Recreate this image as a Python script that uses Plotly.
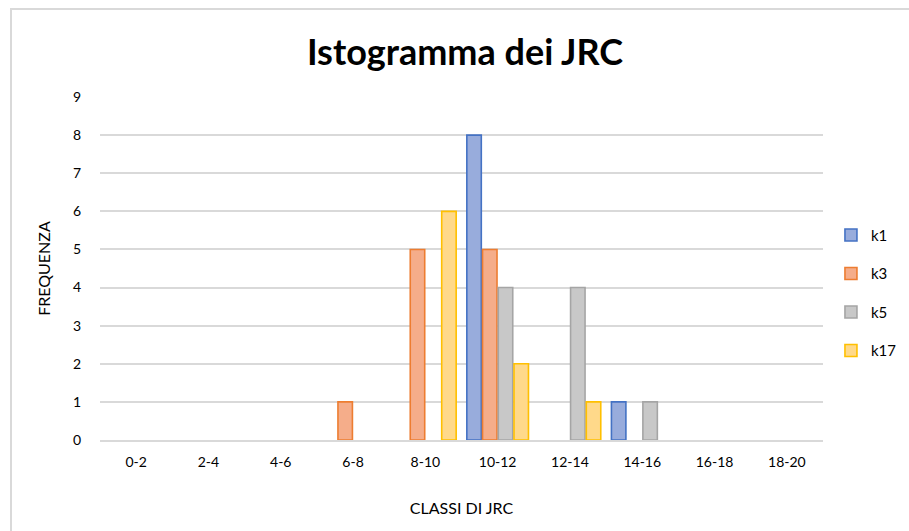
import plotly.graph_objects as go

categories = ["0-2", "2-4", "4-6", "6-8", "8-10", "10-12", "12-14", "14-16", "16-18", "18-20"]
k1 = [0, 0, 0, 0, 0, 8, 0, 1, 0, 0]
k3 = [0, 0, 0, 1, 5, 5, 0, 0, 0, 0]
k5 = [0, 0, 0, 0, 0, 4, 4, 1, 0, 0]
k17 = [0, 0, 0, 0, 6, 2, 1, 0, 0, 0]
y_ticks = list(range(0, 10))

series = [
    ("k1", k1, "#98ACDC", "#4472C4"),
    ("k3", k3, "#F5AD8A", "#ED7D31"),
    ("k5", k5, "#C8C8C8", "#A5A5A5"),
    ("k17", k17, "#FFD98A", "#FFC000"),
]

FONT = "Lato"
fig = go.Figure()
for name, vals, fill, line in series:
    fig.add_trace(go.Bar(
        name=name, x=categories, y=[v if v else None for v in vals],
        marker=dict(color=fill, line=dict(color=line, width=1.6)),
        legendgroup=name,
    ))

fig.update_layout(
    width=909, height=531,
    barmode="group", bargap=0.13, bargroupgap=0.08,
    paper_bgcolor="white", plot_bgcolor="white",
    margin=dict(l=100, r=86, t=97, b=91, autoexpand=False),
    title=dict(text="<b>Istogramma dei JRC</b>", x=465 / 909, xanchor="center",
               y=1 - 52 / 531, yanchor="middle",
               font=dict(family=FONT, size=36, color="#000000")),
    font=dict(family=FONT, size=14, color="#000000"),
    legend=dict(x=1.011, xanchor="left", y=0.645, yanchor="top",
                traceorder="grouped", tracegroupgap=16,
                font=dict(family=FONT, size=15, color="#000000"),
                itemwidth=30),
    xaxis=dict(type="category",
               title=dict(text="CLASSI DI JRC", font=dict(family=FONT, size=16, color="#000000"), standoff=34),
               showgrid=False, showline=True, linecolor="#D9D9D9", linewidth=2,
               tickfont=dict(family=FONT, size=14, color="#000000"), ticks="",
               ticklabelstandoff=8),
    yaxis=dict(title=dict(text="FREQUENZA", font=dict(family=FONT, size=16, color="#000000"), standoff=18),
               range=[0, 9], tickvals=y_ticks, showgrid=True, gridcolor="#D9D9D9", gridwidth=1.5,
               zeroline=False, tickfont=dict(family=FONT, size=14, color="#000000"), ticks="",
               ticklabelstandoff=18),
    shapes=[dict(type="rect", xref="paper", yref="paper",
                 x0=(11 - 100) / 723, x1=(915 - 100) / 723,
                 y0=(440 - 540) / 343, y1=(440 - 9) / 343,
                 line=dict(color="#D9D9D9", width=2), fillcolor="rgba(0,0,0,0)", layer="below")],
)

fig.write_html("out.html", config={"displayModeBar": False},
               post_script="document.body.style.margin='0';document.body.style.overflow='hidden';")
